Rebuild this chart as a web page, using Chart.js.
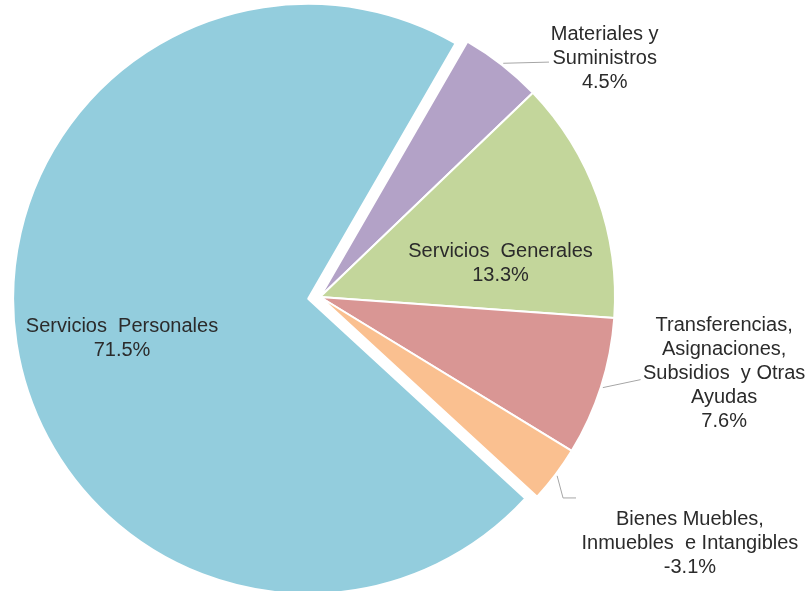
<!DOCTYPE html>
<html>
<head>
<meta charset="utf-8">
<script src="https://cdn.jsdelivr.net/npm/chart.js@4.4.1/dist/chart.umd.min.js"></script>
<style>
  html, body { margin: 0; padding: 0; background: #ffffff; }
  canvas { display: block; }
</style>
</head>
<body>
<canvas id="grafico" width="810" height="591"></canvas>
<script>
// categorias (una linea por renglon del rotulo)
const categorias = [
    ['Materiales y', 'Suministros'],
    ['Servicios  Generales'],
    ['Transferencias,', 'Asignaciones,', 'Subsidios  y Otras', 'Ayudas'],
    ['Bienes Muebles,', 'Inmuebles  e Intangibles'],
    ['Servicios  Personales']
];
// porcentajes por capitulo
const porcentajes = [4.5, 13.3, 7.6, -3.1, 71.5];
const colores = ['#b3a2c7', '#c3d69b', '#d99694', '#fac090', '#93cddd'];
// separacion de cada rebanada (px)
const separacion = [0, 0, 0, 0, 12];

document.addEventListener('DOMContentLoaded', function () {
    const canvas = document.getElementById('grafico');
    const ctx = canvas.getContext('2d');

    // posicion de rotulos en fracciones del radio, relativo al centro de cada arco
    const posRotulos = [
        { fx: 0.965, fy: -0.807, guia: [[0.0, 0.0], [0.155, -0.004]] },
        { fx: 0.612, fy: -0.112 },
        { fx: 1.370, fy: 0.259, guia: [[0.0, 0.0], [0.128, -0.027]] },
        { fx: 1.254, fy: 0.837, guia: [[0.0, 0.0], [0.02, 0.075], [0.064, 0.075]] },
        { fx: -0.631, fy: 0.134 }
    ];

    // desplaza las rebanadas sin agrandar el radio
    const separarPlugin = {
        id: 'separar',
        afterDatasetsUpdate(chart) {
            chart.getDatasetMeta(0).data.forEach((arco, i) => {
                const d = separacion[i];
                if (!d) return;
                const medio = (arco.startAngle + arco.endAngle) / 2;
                arco.x += Math.cos(medio) * d;
                arco.y += Math.sin(medio) * d;
            });
        }
    };

    const rotulosPlugin = {
        id: 'rotulos',
        afterDatasetsDraw(chart) {
            const meta = chart.getDatasetMeta(0);
            const c = chart.ctx;
            c.save();
            c.font = '20px "Liberation Sans", Arial, sans-serif';
            c.textAlign = 'center';
            c.textBaseline = 'middle';
            const alto = 24;
            meta.data.forEach((arco, i) => {
                const p = arco.getProps(['x', 'y', 'startAngle', 'endAngle', 'outerRadius'], true);
                const R = p.outerRadius;
                const pos = posRotulos[i];
                if (pos.guia) {
                    const medio = (p.startAngle + p.endAngle) / 2;
                    const x0 = p.x + Math.cos(medio) * (R + 2);
                    const y0 = p.y + Math.sin(medio) * (R + 2);
                    c.beginPath();
                    c.strokeStyle = '#a6a6a6';
                    c.lineWidth = 1;
                    pos.guia.forEach((g, k) => {
                        const gx = x0 + g[0] * R, gy = y0 + g[1] * R;
                        if (k === 0) c.moveTo(gx, gy); else c.lineTo(gx, gy);
                    });
                    c.stroke();
                }
                const lineas = categorias[i].concat([porcentajes[i].toFixed(1) + '%']);
                const cx = p.x + pos.fx * R;
                const cy = p.y + pos.fy * R;
                const y0 = cy - (lineas.length - 1) * alto / 2;
                c.fillStyle = '#2b2b2b';
                lineas.forEach((t, k) => c.fillText(t, cx, y0 + k * alto));
            });
            c.restore();
        }
    };

    new Chart(ctx, {
        type: 'pie',
        data: {
            labels: categorias.map(l => l.join(' ')),
            datasets: [{
                data: porcentajes.map(v => Math.abs(v)),
                backgroundColor: colores,
                borderColor: '#ffffff',
                borderWidth: 2,
                clip: false
            }]
        },
        options: {
            responsive: false,
            animation: false,
            events: [],
            rotation: 30,
            radius: 295,
            layout: { padding: { top: 3, right: 170 } },
            plugins: {
                legend: { display: false },
                tooltip: { enabled: false },
                title: { display: false }
            }
        },
        plugins: [separarPlugin, rotulosPlugin]
    });
});
</script>
</body>
</html>
